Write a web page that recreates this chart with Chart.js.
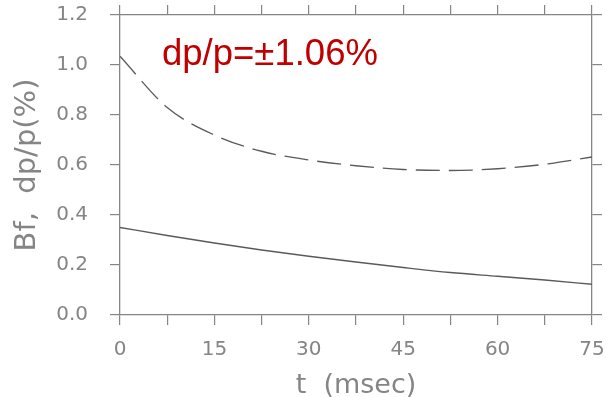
<!DOCTYPE html>
<html>
<head>
<meta charset="utf-8">
<script src="https://cdn.jsdelivr.net/npm/chart.js@4"></script>
<style>
  html, body { margin: 0; padding: 0; background: #fff; }
  #wrap { width: 606px; height: 397px; }
</style>
</head>
<body>
<div id="wrap"><canvas id="bfChart"></canvas></div>
<script>
// values
const times   = [0, 7.5, 15, 22.5, 30, 37.5, 45, 52.5, 60, 67.5, 75];
const dpUpper = [1.035, 0.83, 0.72, 0.655, 0.62, 0.597, 0.582, 0.578, 0.585, 0.603, 0.632];
const bfLine  = [0.35, 0.318, 0.288, 0.26, 0.235, 0.212, 0.19, 0.17, 0.155, 0.14, 0.123];
const xLabelEvery = 15;
const annotation = 'dp/p=\u00b11.06%';

const AXIS = '#858585';
const INK = '#5a5a5a';
const TXT = '#858585';
const FONT = "'DejaVu Sans', sans-serif";

const toPoints = vals => vals.map((v, i) => ({ x: times[i], y: v }));

const labelPlugin = {
    id: 'annotationText',
    afterDraw(chart) {
        const c = chart.ctx;
        c.save();
        c.fillStyle = '#c00000';
        c.font = "36.5px 'Liberation Sans', Arial, sans-serif";
        c.textBaseline = 'alphabetic';
        c.fillText(annotation, 162, 65);
        c.restore();
    }
};

// fixed box sizes so the plot frame lands where the reference has it
function fixSize(size) {
    return function(scale) {
        if (scale.isHorizontal()) scale.height = size;
        else scale.width = size;
        scale.paddingTop = scale.paddingBottom = 0;
        scale.paddingLeft = scale.paddingRight = 0;
    };
}

const gridOpts = { drawOnChartArea: false, drawTicks: true, tickLength: 10, color: AXIS, lineWidth: 1.2 };
const borderOpts = { display: true, color: AXIS, width: 1.3 };

new Chart(document.getElementById('bfChart'), {
    type: 'line',
    data: {
        datasets: [
            {
                data: toPoints(dpUpper),
                borderColor: INK,
                borderWidth: 1.3,
                borderDash: [24, 9],
                pointRadius: 0,
                cubicInterpolationMode: 'monotone',
                fill: false
            },
            {
                data: toPoints(bfLine),
                borderColor: INK,
                borderWidth: 1.3,
                pointRadius: 0,
                cubicInterpolationMode: 'monotone',
                fill: false
            }
        ]
    },
    options: {
        responsive: true,
        maintainAspectRatio: false,
        animation: false,
        layout: { padding: 0 },
        plugins: { legend: { display: false }, tooltip: { enabled: false } },
        scales: {
            x: {
                type: 'linear', position: 'bottom', min: 0, max: 75,
                afterFit: fixSize(82),
                grid: gridOpts, border: borderOpts,
                ticks: {
                    stepSize: 7.5, autoSkip: false, maxRotation: 0, padding: 13,
                    color: TXT, font: { family: FONT, size: 20 },
                    callback: v => (v % xLabelEvery === 0 ? String(v) : '')
                },
                title: {
                    display: true, text: 't  (msec)', color: TXT,
                    font: { family: FONT, size: 27, lineHeight: 0.8 }, padding: 0
                }
            },
            xTop: {
                type: 'linear', position: 'top', min: 0, max: 75,
                afterFit: fixSize(15),
                grid: gridOpts, border: borderOpts,
                ticks: { stepSize: 7.5, display: false }
            },
            y: {
                type: 'linear', position: 'left', min: 0, max: 1.2,
                afterFit: fixSize(120),
                grid: gridOpts, border: borderOpts,
                ticks: {
                    stepSize: 0.2, padding: 22,
                    color: TXT, font: { family: FONT, size: 20 },
                    callback: v => v.toFixed(1)
                },
                title: {
                    display: true, text: 'Bf,  dp/p(%)', color: TXT,
                    font: { family: FONT, size: 29, lineHeight: 1 }, padding: { top: 13 }
                }
            },
            yRight: {
                type: 'linear', position: 'right', min: 0, max: 1.2,
                afterFit: fixSize(14),
                grid: gridOpts, border: borderOpts,
                ticks: { stepSize: 0.2, display: false }
            }
        }
    },
    plugins: [labelPlugin]
});
</script>
</body>
</html>
